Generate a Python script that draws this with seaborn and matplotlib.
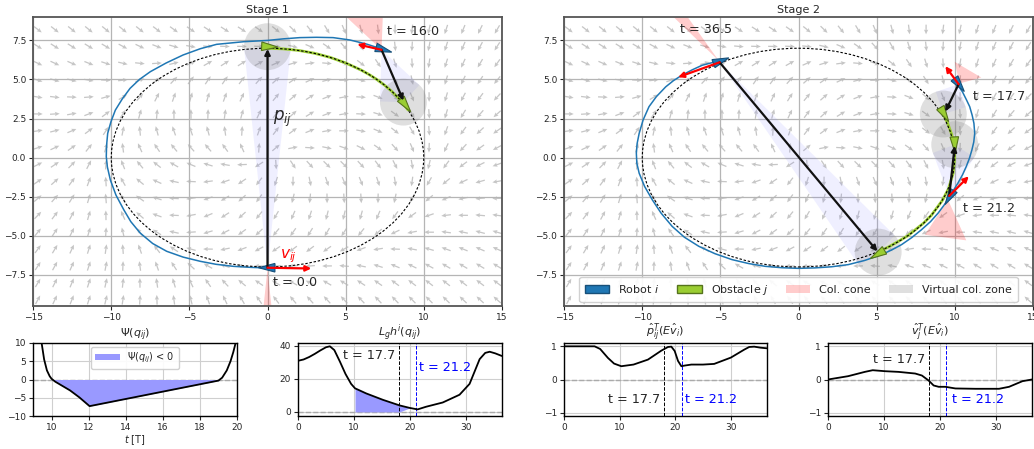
import numpy as np
import pandas as pd
import matplotlib
matplotlib.use("Agg")
import matplotlib.pyplot as plt
from matplotlib.patches import Ellipse, Circle, Polygon, Patch
import seaborn as sns

sns.set_theme(style="ticks")
plt.rcParams['font.family'] = ['DejaVu Sans']
plt.rcParams['mathtext.fontset'] = 'dejavusans'

# ---------------- data ----------------
ELL_A, ELL_B = 10.0, 7.0      # reference ellipse semi-axes
FIELD_K = 2.0                 # convergence gain of guiding field
ZONE_R = 1.5                  # virtual collision zone radius

# Stage 1 paths
s1_robot_x = [0.0, -1.0, -2.2, -3.3, -4.3, -5.4, -6.45, -7.35, -8.15, -8.75, -9.2, -9.7, -10.06, -10.25, -10.32,
              -10.3, -10.23, -10.02, -9.74, -9.3, -8.8, -8.2, -7.5, -6.5, -5.4, -4.3, -3.26, -1.5, 0.0, 1.0,
              2.07, 3.13, 4.2, 5.27, 6.33, 7.2]
s1_robot_y = [-7.06, -7.03, -6.96, -6.83, -6.64, -6.37, -6.0, -5.5, -4.83, -4.1, -3.34, -2.4, -1.43, -0.6, 0.06,
              0.8, 1.55, 2.3, 3.04, 3.75, 4.43, 5.0, 5.5, 6.05, 6.57, 6.97, 7.25, 7.42, 7.5, 7.6,
              7.68, 7.7, 7.68, 7.53, 7.27, 6.99]
s1_obst_x = [0.0, 1.0, 2.0, 3.0, 4.0, 5.0, 6.0, 6.5, 7.0, 7.5, 8.0, 8.5, 9.0]
s1_obst_y = [7.0, 6.96, 6.86, 6.68, 6.42, 6.06, 5.6, 5.32, 5.0, 4.63, 4.2, 3.69, 3.05]

# Stage 2 paths
s2_robot_x = [10.2, 10.5, 10.75, 10.96, 11.12, 11.23, 11.28, 11.22, 11.1, 10.94, 10.74, 10.5, 10.2, 9.68, 9.35,
              8.94, 8.45, 7.87, 7.25, 6.6, 5.95, 5.32, 4.25, 3.19, 2.1, 1.06, 0.0, -1.06, -2.13, -3.2, -4.26,
              -5.35, -6.38, -7.3, -8.09, -8.8, -9.36, -9.85, -10.2, -10.35, -10.38, -10.33, -10.2, -9.95,
              -9.57, -9.1, -8.5, -8.0, -7.45, -6.8, -6.17, -5.1]
s2_robot_y = [4.64, 4.2, 3.7, 3.26, 2.7, 2.19, 1.55, 1.0, 0.49, -0.05, -0.57, -1.1, -1.64, -2.49, -3.0,
              -3.55, -4.1, -4.62, -5.12, -5.57, -5.92, -6.21, -6.58, -6.85, -6.99, -7.06, -7.09, -7.05, -6.96,
              -6.78, -6.53, -6.15, -5.68, -5.1, -4.4, -3.55, -2.7, -1.85, -1.0, -0.35, 0.28, 0.9, 1.55, 2.4,
              3.26, 3.9, 4.53, 4.93, 5.28, 5.62, 5.91, 6.19]
s2_obst_x = [9.2, 9.55, 9.8, 9.97, 10.0, 9.9, 9.6, 9.2, 8.5, 8.0, 7.5, 7.0, 6.5, 5.8, 5.1]
s2_obst_y = [2.9, 2.2, 1.5, 0.85, 0.0, -1.0, -2.0, -2.75, -3.7, -4.2, -4.6, -5.0, -5.3, -5.7, -6.05]

# snapshots: Stage 1 (t = 0.0, 16.0)
s1_labels = ["t = 0.0", "t = 16.0"]
s1_label_xy = [(0.35, -8.0), (7.65, 8.1)]
s1_robot_pos = [(-0.05, -7.05), (7.45, 6.9)]
s1_robot_head = [(-1.0, 0.0), (1.0, -0.3)]
s1_obst_pos = [(0.15, 7.1), (8.85, 3.35)]
s1_obst_head = [(1.0, -0.05), (0.6, -0.8)]
s1_zone_c = [(0.0, 7.1), (8.7, 3.55)]
s1_p_start = [(0.0, -7.05), (7.3, 6.9)]
s1_p_end = [(0.0, 6.95), (8.7, 3.65)]
s1_v_end = [(2.8, -7.1), (5.75, 7.25)]
s1_cones = [[(0.0, -7.1), (-0.25, -9.5), (0.25, -9.5)],
            [(7.3, 6.9), (5.05, 9.0), (7.38, 9.0)]]

# snapshots: Stage 2 (t = 17.7, 21.2, 36.5)
s2_labels = ["t = 17.7", "t = 21.2", "t = 36.5"]
s2_label_xy = [(11.2, 3.92), (10.55, -3.29), (-7.6, 8.2)]
s2_robot_pos = [(10.3, 4.65), (9.65, -2.55), (-4.95, 6.2)]
s2_robot_head = [(0.6, -0.8), (-0.5, -0.85), (0.93, 0.35)]
s2_obst_pos = [(9.35, 2.75), (10.0, 0.8), (5.05, -6.2)]
s2_obst_head = [(0.5, -0.85), (0.05, -1.0), (-0.85, -0.5)]
s2_zone_c = [(9.27, 2.79), (10.0, 0.83), (5.1, -6.05)]
s2_p_start = [(10.25, 4.7), (9.65, -2.45), (-5.05, 6.1)]
s2_p_end = [(9.4, 2.95), (10.0, 0.75), (5.05, -6.0)]
s2_v_end = [(9.4, 5.85), (10.9, -1.2), (-7.7, 5.15)]
s2_cones = [[(10.3, 4.74), (10.0, 6.13), (11.7, 5.13)],
            [(9.57, -2.7), (8.09, -4.94), (10.74, -5.3)],
            [(-5.1, 6.2), (-8.0, 9.0), (-7.1, 9.0)]]

# bottom panels
psi_t = [9.45, 9.6, 9.75, 9.9, 10.0, 10.2, 10.6, 11.0, 11.5, 12.05, 19.0, 19.2, 19.45, 19.65, 19.8, 19.95]
psi_v = [10.5, 5.5, 2.5, 0.9, 0.2, -0.6, -1.8, -3.0, -4.9, -7.3, -0.3, 0.5, 2.5, 5.0, 7.5, 10.5]

lgh_t = [0, 1, 2, 3, 4, 5, 5.7, 6.5, 7.5, 8.5, 9.5, 10.2, 12.2, 15.2, 18.2, 20.0, 21.4, 22.9, 25.9, 28.9,
         30.7, 31.6, 32.5, 33.5, 34.3, 35.3, 36.5]
lgh_v = [31.0, 31.8, 33.3, 35.2, 37.3, 39.2, 39.8, 37.5, 30.5, 23.0, 17.0, 14.3, 11.2, 7.3, 3.9, 2.4, 1.5,
         3.1, 5.7, 10.4, 17.0, 24.5, 32.0, 35.8, 36.5, 35.5, 33.9]

ph_t = [0, 5.5, 6.5, 7.9, 9.0, 10.3, 12.5, 15.1, 17.5, 18.7, 19.3, 19.9, 20.5, 21.1, 21.7, 22.9, 25.0, 27.0,
        30.0, 32.4, 33.3, 34.2, 35.3, 36.5]
ph_v = [1.0, 1.0, 0.92, 0.65, 0.48, 0.40, 0.45, 0.60, 0.87, 0.98, 0.99, 0.86, 0.56, 0.40, 0.42, 0.45, 0.45,
        0.47, 0.66, 0.90, 0.98, 0.99, 0.96, 0.94]

vh_t = [0, 3.6, 6.6, 8.0, 10.2, 12.6, 15.6, 16.8, 18.0, 18.9, 19.8, 21.0, 22.8, 26.4, 30.6, 32.4, 34.8, 36.5]
vh_v = [0.0, 0.10, 0.23, 0.28, 0.25, 0.23, 0.18, 0.12, -0.03, -0.18, -0.22, -0.22, -0.27, -0.28, -0.28,
        -0.22, -0.05, 0.0]

t_mark1, t_mark2 = 18.0, 21.2
shade_t0, shade_t1 = 10.0, 19.0

# ---------------- style ----------------
ROBOT_C, ROBOT_EC = '#1f77b4', '#174f78'
OBST_C, OBST_EC = '#9acd32', '#55731c'
CONE_C = (1.0, 0.0, 0.0, 0.2)
ZONE_C = (0.5, 0.5, 0.5, 0.25)
LAV_C = (0.45, 0.45, 1.0, 0.11)
FILL_C = '#9999ff'
TICK_FS, TITLE_FS, ANN_FS = 6.5, 8, 9.2

fig = plt.figure(figsize=(10.34, 4.49), dpi=100)
W, H = 1034.0, 449.0


def add_ax(l, t, r, b):
    return fig.add_axes([l / W, 1 - b / H, (r - l) / W, (b - t) / H])


def field(ax):
    gx = np.linspace(-14.7, 14.7, 28)
    gy = np.linspace(-9.1, 8.2, 17)
    X, Y = np.meshgrid(gx, gy)
    phi = X ** 2 / ELL_A ** 2 + Y ** 2 / ELL_B ** 2 - 1
    Gx, Gy = 2 * X / ELL_A ** 2, 2 * Y / ELL_B ** 2
    U = Gy - FIELD_K * phi * Gx
    V = -Gx - FIELD_K * phi * Gy
    n = np.hypot(U, V) + 1e-9
    ax.quiver(X, Y, U / n, V / n, color='#c6c6c6', pivot='mid', angles='xy', scale_units='xy',
              scale=1 / 0.62, width=0.0027, headwidth=3.4, headlength=3.8, headaxislength=3.3, zorder=1)


def tangent_cone(apex, center, r):
    a = np.asarray(apex, float)
    c = np.asarray(center, float)
    d = c - a
    L = np.hypot(*d)
    ang = np.arctan2(d[1], d[0])
    half = np.arcsin(min(r / L, 0.999))
    tl = np.sqrt(max(L ** 2 - r ** 2, 1e-6))
    p1 = a + tl * np.array([np.cos(ang + half), np.sin(ang + half)])
    p2 = a + tl * np.array([np.cos(ang - half), np.sin(ang - half)])
    return [a, p1, c, p2]


def agent(ax, pos, head, fc, ec, L=1.05, Wd=0.55):
    h = np.asarray(head, float)
    h = h / np.hypot(*h)
    p = np.asarray(pos, float)
    nrm = np.array([-h[1], h[0]])
    tip = p + 0.5 * L * h
    base = p - 0.5 * L * h
    ax.add_patch(Polygon([tip, base + 0.5 * Wd * nrm, base - 0.5 * Wd * nrm], closed=True,
                         fc=fc, ec=ec, lw=0.8, zorder=6))


def arrow(ax, start, end, color, lw=1.6, ms=9):
    ax.annotate('', xy=end, xytext=start,
                arrowprops=dict(arrowstyle='-|>', color=color, lw=lw, mutation_scale=ms,
                                shrinkA=0, shrinkB=0), zorder=7)


def style_top(ax, title):
    ax.set_xlim(-15, 15)
    ax.set_ylim(-9.5, 9.0)
    ax.set_aspect('equal')
    ax.set_xticks([-15, -10, -5, 0, 5, 10, 15])
    ax.set_yticks([-7.5, -5.0, -2.5, 0.0, 2.5, 5.0, 7.5])
    ax.set_yticklabels(['\u22127.5', '\u22125.0', '\u22122.5', '0.0', '2.5', '5.0', '7.5'])
    ax.grid(True, color='#b5b5b5', lw=0.9)
    ax.set_axisbelow('line')
    ax.tick_params(labelsize=TICK_FS, length=3, width=0.8, pad=2)
    for s in ax.spines.values():
        s.set_color('#555555')
        s.set_linewidth(1.3)
    ax.set_title(title, fontsize=TITLE_FS, pad=3)


def stage(ax, title, rx, ry, ox, oy, labels, lxy, rpos, rhead, opos, ohead, zc, ps, pe, ve, cones):
    field(ax)
    for s, c in zip(ps, zc):
        ax.add_patch(Polygon(tangent_cone(s, c, ZONE_R), closed=True, fc=LAV_C, ec='none', zorder=2))
    for c in zc:
        ax.add_patch(Circle(c, ZONE_R, fc=ZONE_C, ec='none', zorder=2.2))
    for cone in cones:
        ax.add_patch(Polygon(cone, closed=True, fc=CONE_C, ec='none', zorder=2.4))
    ax.plot(ox, oy, color=OBST_C, lw=2.0, zorder=3, solid_joinstyle='round')
    ax.plot(rx, ry, color=ROBOT_C, lw=1.1, zorder=3.5, solid_joinstyle='round')
    ax.add_patch(Ellipse((0, 0), 2 * ELL_A, 2 * ELL_B, fill=False, ec='black', ls=(0, (2.2, 1.6)),
                         lw=0.8, zorder=4))
    for p, h in zip(opos, ohead):
        agent(ax, p, h, OBST_C, OBST_EC)
    for p, h in zip(rpos, rhead):
        agent(ax, p, h, ROBOT_C, ROBOT_EC)
    for s, e in zip(ps, pe):
        arrow(ax, s, e, '#111111', lw=1.6, ms=8)
    for s, e in zip(ps, ve):
        arrow(ax, s, e, 'red', lw=1.6, ms=8)
    for t, (x, y) in zip(labels, lxy):
        ax.text(x, y, t, fontsize=ANN_FS, ha='left', va='center', zorder=8)
    style_top(ax, title)


# ---------------- top panels ----------------
ax1 = add_ax(33, 17, 502, 306)
stage(ax1, "Stage 1", s1_robot_x, s1_robot_y, s1_obst_x, s1_obst_y, s1_labels, s1_label_xy,
      s1_robot_pos, s1_robot_head, s1_obst_pos, s1_obst_head, s1_zone_c, s1_p_start, s1_p_end,
      s1_v_end, s1_cones)
ax1.text(0.35, 2.5, r'$p_{ij}$', fontsize=12, ha='left', va='center', zorder=8)
ax1.text(0.8, -6.3, r'$v_{ij}$', fontsize=11, color='red', ha='left', va='center', zorder=8)

ax2 = add_ax(564, 17, 1033, 306)
stage(ax2, "Stage 2", s2_robot_x, s2_robot_y, s2_obst_x, s2_obst_y, s2_labels, s2_label_xy,
      s2_robot_pos, s2_robot_head, s2_obst_pos, s2_obst_head, s2_zone_c, s2_p_start, s2_p_end,
      s2_v_end, s2_cones)
handles = [Patch(fc=ROBOT_C, ec=ROBOT_EC, label='Robot $i$'),
           Patch(fc=OBST_C, ec=OBST_EC, label='Obstacle $j$'),
           Patch(fc=CONE_C, ec='none', label='Col. cone'),
           Patch(fc=ZONE_C, ec='none', label='Virtual col. zone')]
leg = ax2.legend(handles=handles, loc='lower center', ncol=4, fontsize=8, handlelength=2.2,
                 columnspacing=1.6, handletextpad=0.8, borderaxespad=0.35, borderpad=0.5,
                 framealpha=0.9, edgecolor='#cccccc', fancybox=True)
leg.set_zorder(10)


# ---------------- bottom panels ----------------
def style_bottom(ax, title):
    ax.grid(True, color='#cfcfcf', lw=0.8)
    ax.set_axisbelow(True)
    ax.tick_params(labelsize=TICK_FS, length=3, width=0.8, pad=2)
    for s in ax.spines.values():
        s.set_color('black')
        s.set_linewidth(1.0)
    ax.set_title(title, fontsize=TITLE_FS, pad=3)
    ax.axhline(0, color='#aaaaaa', ls='--', lw=1.0, zorder=1.5)
    ax.set_xlabel('')
    ax.set_ylabel('')


def marks(ax, y1, y2, x1, x2):
    ax.axvline(t_mark1, color='black', ls='--', lw=0.7, zorder=2)
    ax.axvline(t_mark2, color='blue', ls='--', lw=0.7, zorder=2)
    ax.text(x1, y1, 't = 17.7', fontsize=ANN_FS, ha='left', va='center')
    ax.text(x2, y2, 't = 21.2', fontsize=ANN_FS, ha='left', va='center', color='blue')


# Psi
axp = add_ax(33, 343, 237, 416)
psi_df = pd.DataFrame({'t': psi_t, 'v': psi_v})
sns.lineplot(data=psi_df, x='t', y='v', ax=axp, color='black', lw=1.3, zorder=3)
tt = np.array(psi_t)
vv = np.array(psi_v)
axp.fill_between(tt, vv, 0, where=vv < 0, interpolate=True, color=FILL_C, lw=0, zorder=2)
axp.set_xlim(9, 20)
axp.set_ylim(-10, 10)
axp.set_xticks([10, 12, 14, 16, 18, 20])
axp.set_yticks([-10, -5, 0, 5, 10])
axp.set_yticklabels(['\u221210', '\u22125', '0', '5', '10'])
style_bottom(axp, r'$\Psi(q_{ij})$')
axp.set_xlabel(r'$t$ [T]', fontsize=7, labelpad=1)
axp.legend(handles=[Patch(fc=FILL_C, ec='none', label=r'$\Psi(q_{ij})$ < 0')], loc='upper center',
           fontsize=7, handlelength=2.5, framealpha=0.9, borderaxespad=0.4)

# Lgh
axl = add_ax(298, 343, 502, 416)
lgh_df = pd.DataFrame({'t': lgh_t, 'v': lgh_v})
sns.lineplot(data=lgh_df, x='t', y='v', ax=axl, color='black', lw=1.3, zorder=3)
lt = np.array(lgh_t)
lv = np.array(lgh_v)
axl.fill_between(lt, lv, 0, where=(lt >= shade_t0) & (lt <= shade_t1), interpolate=True,
                 color=FILL_C, lw=0, zorder=2)
axl.set_xlim(0, 36.5)
axl.set_ylim(-2.5, 41.8)
axl.set_xticks([0, 10, 20, 30])
axl.set_yticks([0, 20, 40])
style_bottom(axl, r'$L_g h^i(q_{ij})$')
marks(axl, 34.0, 27.0, 8.0, 21.7)

# p-hat
axh = add_ax(564, 343, 767, 416)
sns.lineplot(x=ph_t, y=ph_v, ax=axh, color='black', lw=1.3, zorder=3)
axh.set_xlim(0, 36.5)
axh.set_ylim(-1.1, 1.1)
axh.set_xticks([0, 10, 20, 30])
axh.set_yticks([-1, 0, 1])
axh.set_yticklabels(['\u22121', '0', '1'])
style_bottom(axh, r'$\hat{p}_{ij}^T(E\hat{v}_i)$')
marks(axh, -0.6, -0.6, 7.9, 21.8)

# v-hat
axv = add_ax(828, 343, 1032, 416)
sns.lineplot(x=vh_t, y=vh_v, ax=axv, color='black', lw=1.3, zorder=3)
axv.set_xlim(0, 36.5)
axv.set_ylim(-1.1, 1.1)
axv.set_xticks([0, 10, 20, 30])
axv.set_yticks([-1, 0, 1])
axv.set_yticklabels(['\u22121', '0', '1'])
style_bottom(axv, r'$\hat{v}_j^T(E\hat{v}_i)$')
marks(axv, 0.61, -0.6, 8.1, 22.1)

fig.savefig('out.png', dpi=100)
